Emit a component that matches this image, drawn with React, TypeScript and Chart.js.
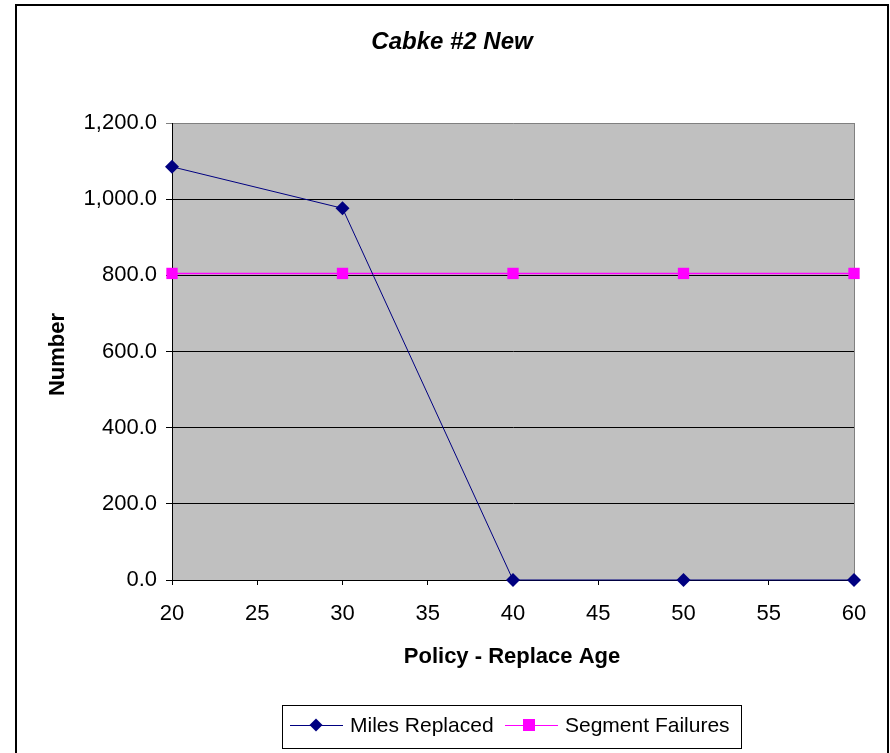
import React, { useEffect, useRef } from "react";
import { Chart, registerables } from "chart.js";

Chart.register(...registerables);

// Chart content
const chartTitle = "Cabke #2 New";
const xAxisTitle = "Policy - Replace Age";
const yAxisTitle = "Number";

const policyAge = [20, 30, 40, 50, 60];
const milesReplaced = [1085, 976, 0, 0, 0];
const segmentFailures = [805, 805, 805, 805, 805];

const seriesNames = ["Miles Replaced", "Segment Failures"];
const xTicks = [20, 25, 30, 35, 40, 45, 50, 55, 60];
const yTicks = [0, 200, 400, 600, 800, 1000, 1200];

const FONT = "'Liberation Sans', Arial, sans-serif";
const NAVY = "#000080";
const MAGENTA = "#FF00FF";

const W = 890;
const H = 753;

function drawDiamond(ctx: CanvasRenderingContext2D, x: number, y: number, r: number, color: string) {
  ctx.save();
  ctx.fillStyle = color;
  ctx.beginPath();
  ctx.moveTo(x, y - r);
  ctx.lineTo(x + r, y);
  ctx.lineTo(x, y + r);
  ctx.lineTo(x - r, y);
  ctx.closePath();
  ctx.fill();
  ctx.restore();
}

function drawSquare(ctx: CanvasRenderingContext2D, x: number, y: number, s: number, color: string) {
  ctx.save();
  ctx.fillStyle = color;
  ctx.fillRect(x - s / 2, y - s / 2, s, s);
  ctx.restore();
}

const frame = {
  id: "frame",
  beforeDraw(chart: any) {
    const { ctx, chartArea } = chart;
    ctx.save();
    ctx.fillStyle = "#ffffff";
    ctx.fillRect(0, 0, chart.width, chart.height);
    ctx.fillStyle = "#C0C0C0";
    ctx.fillRect(chartArea.left, chartArea.top, chartArea.right - chartArea.left, chartArea.bottom - chartArea.top);
    ctx.restore();
  },
  beforeDatasetsDraw(chart: any) {
    const { ctx, chartArea } = chart;
    ctx.save();
    ctx.strokeStyle = "#808080";
    ctx.lineWidth = 1;
    ctx.beginPath();
    ctx.moveTo(Math.round(chartArea.right) + 0.5, chartArea.top);
    ctx.lineTo(Math.round(chartArea.right) + 0.5, chartArea.bottom);
    ctx.stroke();
    ctx.restore();
  },
  afterDraw(chart: any) {
    const { ctx, chartArea } = chart;
    ctx.save();
    ctx.fillStyle = "#000";
    ctx.textAlign = "center";
    ctx.textBaseline = "middle";

    // title
    ctx.font = `italic bold 24px ${FONT}`;
    ctx.fillText(chartTitle, 452, 42);

    // axis titles
    ctx.font = `bold 22px ${FONT}`;
    ctx.fillText(xAxisTitle, (chartArea.left + chartArea.right) / 2 - 1, 657);
    ctx.save();
    ctx.translate(58, (chartArea.top + chartArea.bottom) / 2 + 3);
    ctx.rotate(-Math.PI / 2);
    ctx.fillText(yAxisTitle, 0, 0);
    ctx.restore();

    // legend
    ctx.strokeStyle = "#000";
    ctx.lineWidth = 1;
    ctx.strokeRect(282.5, 705.5, 459, 43);
    const ly = 725;
    ctx.font = `21px ${FONT}`;
    ctx.textAlign = "left";

    ctx.strokeStyle = NAVY;
    ctx.beginPath();
    ctx.moveTo(290, ly + 0.5);
    ctx.lineTo(343, ly + 0.5);
    ctx.stroke();
    drawDiamond(ctx, 316, ly, 6.5, NAVY);
    ctx.fillStyle = "#000";
    ctx.fillText(seriesNames[0], 350, ly + 1);

    ctx.strokeStyle = MAGENTA;
    ctx.beginPath();
    ctx.moveTo(505, ly + 0.5);
    ctx.lineTo(558, ly + 0.5);
    ctx.stroke();
    drawSquare(ctx, 529, ly, 12, MAGENTA);
    ctx.fillStyle = "#000";
    ctx.fillText(seriesNames[1], 565, ly + 1);

    // outer frame
    ctx.strokeStyle = "#000";
    ctx.lineWidth = 2;
    ctx.beginPath();
    ctx.moveTo(16, H + 2);
    ctx.lineTo(16, 5);
    ctx.lineTo(888, 5);
    ctx.lineTo(888, H + 2);
    ctx.stroke();
    ctx.restore();
  },
};

export default function App() {
  const ref = useRef<HTMLCanvasElement | null>(null);

  useEffect(() => {
    document.body.style.margin = "0";
    const canvas = ref.current;
    if (!canvas) return;
    const chart = new Chart(canvas, {
      type: "line",
      data: {
        datasets: [
          {
            label: seriesNames[0],
            data: policyAge.map((x, i) => ({ x, y: milesReplaced[i] })),
            borderColor: NAVY,
            backgroundColor: NAVY,
            borderWidth: 1,
            pointStyle: "rectRot",
            pointRadius: 7,
            pointBorderWidth: 0,
            pointBackgroundColor: NAVY,
            clip: false as any,
            order: 1,
          },
          {
            label: seriesNames[1],
            data: policyAge.map((x, i) => ({ x, y: segmentFailures[i] })),
            borderColor: MAGENTA,
            backgroundColor: MAGENTA,
            borderWidth: 1.5,
            pointStyle: "rect",
            pointRadius: 8,
            pointBorderWidth: 0,
            pointBackgroundColor: MAGENTA,
            clip: false as any,
            order: 2,
          },
        ],
      },
      options: {
        animation: false,
        responsive: false,
        devicePixelRatio: 1,
        layout: { padding: { left: 0, top: 123, right: 36, bottom: 0 } },
        plugins: {
          legend: { display: false },
          title: { display: false },
          tooltip: { enabled: false },
        },
        scales: {
          x: {
            type: "linear",
            min: 20,
            max: 60,
            afterBuildTicks: (scale: any) => {
              scale.ticks = xTicks.map((v) => ({ value: v }));
            },
            afterFit: (scale: any) => {
              scale.height = H - 580;
            },
            grid: {
              drawOnChartArea: false,
              drawTicks: true,
              tickLength: 5,
              color: "#000",
            },
            border: { color: "#000", width: 1 },
            ticks: {
              color: "#000",
              font: { family: FONT, size: 22 },
              padding: 16,
              maxRotation: 0,
              autoSkip: false,
            },
          },
          y: {
            type: "linear",
            min: 0,
            max: 1200,
            afterBuildTicks: (scale: any) => {
              scale.ticks = yTicks.map((v) => ({ value: v }));
            },
            afterFit: (scale: any) => {
              scale.width = 172;
            },
            grid: {
              color: (c: any) => (c.tick && c.tick.value === 1200 ? "#808080" : "#000"),
              lineWidth: 1,
              tickLength: 6,
            },
            border: { color: "#000", width: 1 },
            ticks: {
              color: "#000",
              font: { family: FONT, size: 22 },
              padding: 9,
              autoSkip: false,
              callback: (v: any) =>
                Number(v).toLocaleString("en-US", { minimumFractionDigits: 1, maximumFractionDigits: 1 }),
            },
          },
        },
      },
      plugins: [frame],
    });
    return () => chart.destroy();
  }, []);

  return (
    <div style={{ position: "absolute", left: 0, top: 0, width: W, height: H }}>
      <canvas ref={ref} width={W} height={H} style={{ display: "block" }} />
    </div>
  );
}
